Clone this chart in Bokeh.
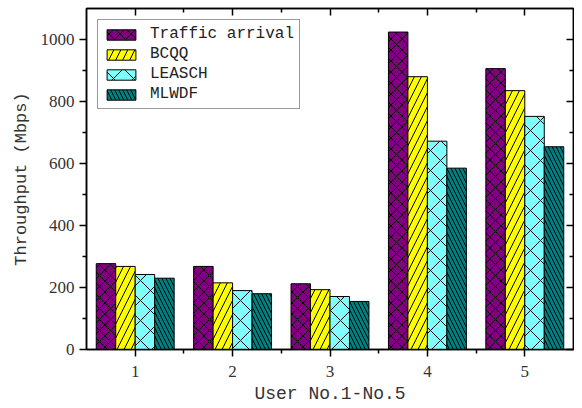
from bokeh.plotting import figure
from bokeh.models import (ColumnDataSource, FixedTicker, LinearAxis, Range1d, Legend, LegendItem,
                          CustomJSTickFormatter)
from bokeh.transform import dodge
from bokeh.embed import file_html
from bokeh.resources import INLINE

# ---- data ----
users = [1, 2, 3, 4, 5]
traffic_arrival = [277, 268, 212, 1024, 906]
bcqq = [268, 215, 193, 880, 835]
leasch = [242, 190, 171, 672, 752]
mlwdf = [230, 180, 155, 585, 654]
series_names = ["Traffic arrival", "BCQQ", "LEASCH", "MLWDF"]
x_ticks = [1, 2, 3, 4, 5]
y_ticks = [0, 200, 400, 600, 800, 1000]

source = ColumnDataSource(dict(x=users, t=traffic_arrival, b=bcqq, l=leasch, m=mlwdf))

p = figure(width=574, height=408, output_backend="svg", toolbar_location=None,
           x_range=Range1d(0.5, 5.5), y_range=Range1d(0, 1100),
           min_border_left=86, min_border_right=1, min_border_top=8, min_border_bottom=59)
p.xgrid.visible = False
p.ygrid.visible = False
p.outline_line_color = "black"
p.outline_line_width = 1.5
p.background_fill_color = "white"

fills = ["#800080", "#FFFF00", "#80FFFF", "#008080"]
hatches = ["diagonal_cross", "right_diagonal_line", "diagonal_cross", "left_diagonal_line"]
scales = [11, 14, 20, 8]
cols = ["t", "b", "l", "m"]
offsets = [-0.3, -0.1, 0.1, 0.3]

renderers = []
for c, off, f, h, s in zip(cols, offsets, fills, hatches, scales):
    r = p.vbar(x=dodge("x", off), top=c, width=0.2, source=source,
               fill_color=f, line_color="black", line_width=1,
               hatch_pattern=h, hatch_scale=s, hatch_color="black", hatch_weight=1)
    renderers.append(r)

legend = Legend(items=[LegendItem(label=n, renderers=[r]) for n, r in zip(series_names, renderers)],
                location="top_left", margin=11, padding=5, spacing=2,
                glyph_width=36, glyph_height=13, label_height=17, label_standoff=11,
                label_text_font="Liberation Mono", label_text_font_size="16px",
                label_text_color="#222222",
                border_line_color="#333333", border_line_width=1,
                background_fill_color="white")
p.add_layout(legend)

font_num = "Liberation Serif"
font_txt = "Liberation Mono"

# bottom axis
xa = p.xaxis[0]
xa.ticker = FixedTicker(ticks=x_ticks, minor_ticks=[1.5, 2.5, 3.5, 4.5])
xa.axis_label = "User No.1-No.5"
# left axis
ya = p.yaxis[0]
ya.ticker = FixedTicker(ticks=y_ticks, minor_ticks=[100, 300, 500, 700, 900])
ya.axis_label = "Throughput (Mbps)"

for ax in (xa, ya):
    ax.axis_line_width = 1.5
    ax.major_tick_line_width = 1.5
    ax.minor_tick_line_width = 1.5
    ax.major_tick_out = 7
    ax.major_tick_in = 0
    ax.minor_tick_out = 4
    ax.minor_tick_in = 0
    ax.major_label_text_font = font_num
    ax.major_label_text_font_size = "17px"
    ax.major_label_text_color = "#333333"
    ax.axis_label_text_font = font_txt
    ax.axis_label_text_font_style = "normal"
    ax.axis_label_text_color = "#333333"
ya.axis_label_text_font_size = "17px"
xa.axis_label_text_font_size = "18px"
ya.major_label_standoff = 5
ya.axis_label_standoff = 7
xa.major_label_standoff = 9
xa.axis_label_standoff = 4

# mirrored axes with inward ticks
top = LinearAxis(ticker=FixedTicker(ticks=x_ticks, minor_ticks=[1.5, 2.5, 3.5, 4.5]),
                 formatter=CustomJSTickFormatter(code="return '';"))
right = LinearAxis(ticker=FixedTicker(ticks=y_ticks, minor_ticks=[100, 300, 500, 700, 900]),
                   formatter=CustomJSTickFormatter(code="return '';"))
for ax in (top, right):
    ax.axis_line_width = 1.5
    ax.major_tick_line_width = 1.5
    ax.minor_tick_line_width = 1.5
    ax.major_tick_out = 0
    ax.major_tick_in = 7
    ax.minor_tick_out = 0
    ax.minor_tick_in = 4
    ax.major_label_standoff = 0
p.add_layout(top, "above")
p.add_layout(right, "right")

open("out.html", "w").write(file_html(p, INLINE))
